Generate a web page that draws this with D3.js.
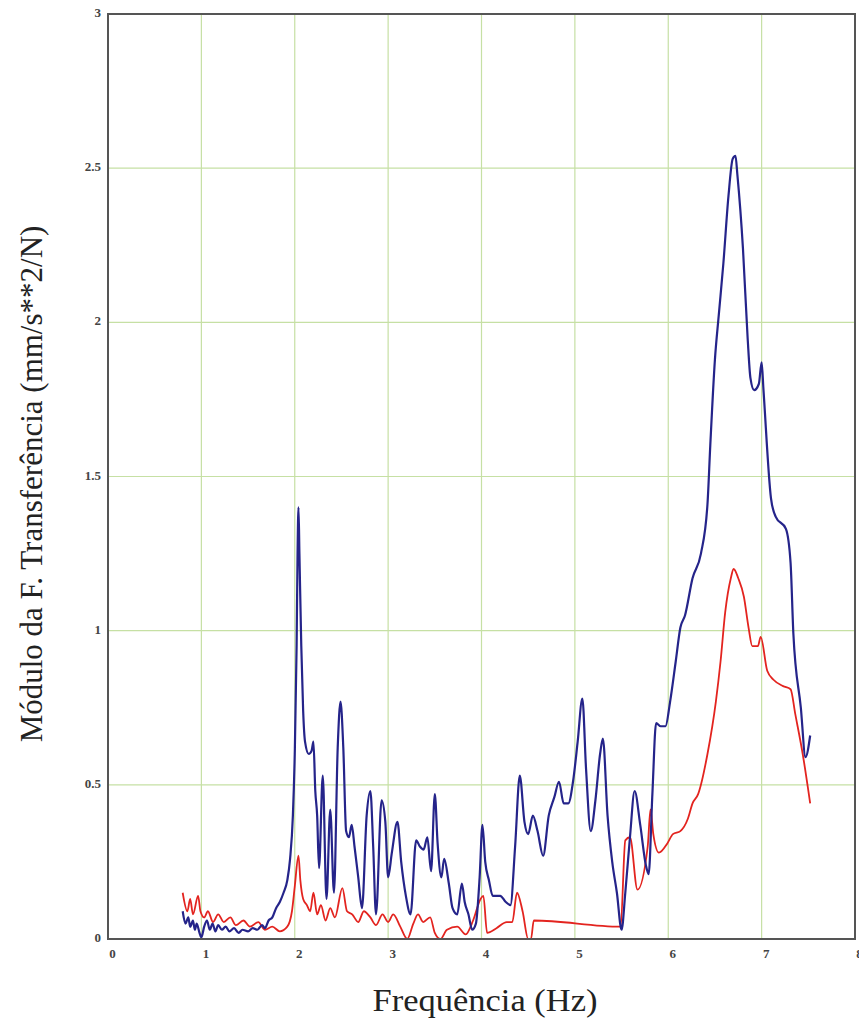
<!DOCTYPE html>
<html>
<head>
<meta charset="utf-8">
<script src="https://cdn.jsdelivr.net/npm/d3@7"></script>
<style>
  body { margin: 0; background: #fff; }
  svg { display: block; }
  .tick text { font-family: "Liberation Serif", "Times New Roman", serif; font-size: 13px; fill: #444; font-weight: bold; }
  .titulo { font-family: "Liberation Serif", "Times New Roman", serif; font-size: 31px; fill: #222; }
</style>
</head>
<body>
<div id="grafico"></div>
<script>
// Eixos
const ticksX = [0, 1, 2, 3, 4, 5, 6, 7, 8];
const ticksY = [0, 0.5, 1, 1.5, 2, 2.5, 3];

// Curva azul
const freqAzul = [0.80, 0.83, 0.86, 0.88, 0.91, 0.93, 0.95, 0.98, 1.00, 1.03, 1.06, 1.09, 1.12, 1.15, 1.18, 1.22, 1.26, 1.30, 1.35, 1.40,
  1.44, 1.50, 1.55, 1.60, 1.65, 1.68, 1.72, 1.76, 1.80, 1.84, 1.88, 1.92, 1.95, 1.98, 2.00, 2.02, 2.03, 2.04, 2.05, 2.07,
  2.09, 2.11, 2.15, 2.18, 2.20, 2.22, 2.24, 2.26, 2.30, 2.34, 2.38, 2.42, 2.46, 2.49, 2.52, 2.55, 2.58, 2.61, 2.64, 2.68,
  2.72, 2.77, 2.81, 2.84, 2.87, 2.93, 2.97, 3.00, 3.04, 3.10, 3.14, 3.19, 3.24, 3.30, 3.34, 3.38, 3.42, 3.46, 3.50, 3.53,
  3.57, 3.60, 3.65, 3.69, 3.74, 3.79, 3.82, 3.86, 3.90, 3.94, 3.98, 4.01, 4.04, 4.08, 4.12, 4.20, 4.26, 4.31, 4.36, 4.41,
  4.46, 4.50, 4.55, 4.60, 4.66, 4.72, 4.78, 4.83, 4.88, 4.93, 4.98, 5.03, 5.08, 5.12, 5.17, 5.22, 5.27, 5.30, 5.35, 5.40,
  5.45, 5.50, 5.54, 5.59, 5.64, 5.70, 5.76, 5.79, 5.83, 5.87, 5.92, 5.97, 6.02, 6.08, 6.13, 6.18, 6.26, 6.35, 6.42, 6.45,
  6.50, 6.54, 6.59, 6.645, 6.69, 6.72, 6.74, 6.80, 6.85, 6.88, 6.92, 6.97, 7.00, 7.02, 7.10, 7.15, 7.26, 7.31, 7.34, 7.42,
  7.47, 7.52];
const modAzul = [0.09, 0.05, 0.07, 0.04, 0.06, 0.03, 0.05, 0.02, 0.005, 0.04, 0.06, 0.03, 0.05, 0.025, 0.045, 0.03, 0.04, 0.025, 0.035, 0.02,
  0.03, 0.025, 0.035, 0.03, 0.045, 0.035, 0.06, 0.07, 0.10, 0.12, 0.15, 0.19, 0.26, 0.40, 0.60, 0.95, 1.25, 1.40, 1.25, 0.95,
  0.74, 0.64, 0.60, 0.61, 0.64, 0.48, 0.40, 0.23, 0.53, 0.13, 0.42, 0.15, 0.62, 0.77, 0.62, 0.35, 0.33, 0.37, 0.30, 0.20,
  0.10, 0.40, 0.48, 0.30, 0.08, 0.45, 0.38, 0.20, 0.28, 0.38, 0.25, 0.14, 0.08, 0.32, 0.30, 0.29, 0.33, 0.22, 0.47, 0.31,
  0.20, 0.26, 0.18, 0.10, 0.08, 0.18, 0.12, 0.08, 0.03, 0.05, 0.20, 0.37, 0.25, 0.19, 0.14, 0.14, 0.12, 0.11, 0.30, 0.53,
  0.38, 0.34, 0.40, 0.35, 0.27, 0.40, 0.46, 0.51, 0.44, 0.44, 0.51, 0.64, 0.78, 0.55, 0.35, 0.45, 0.60, 0.65, 0.40, 0.25,
  0.15, 0.03, 0.15, 0.33, 0.48, 0.37, 0.24, 0.21, 0.47, 0.70, 0.69, 0.69, 0.77, 0.90, 1.01, 1.05, 1.17, 1.25, 1.41, 1.60,
  1.88, 2.02, 2.19, 2.41, 2.53, 2.54, 2.48, 2.24, 1.95, 1.82, 1.78, 1.80, 1.87, 1.78, 1.43, 1.37, 1.33, 1.22, 0.99, 0.75,
  0.59, 0.66];

// Curva vermelha
const freqVermelho = [0.80, 0.85, 0.88, 0.91, 0.965, 0.99, 1.03, 1.07, 1.125, 1.18, 1.24, 1.31, 1.37, 1.45, 1.52, 1.61, 1.68, 1.76, 1.84, 1.92,
  1.97, 2.00, 2.04, 2.06, 2.09, 2.13, 2.165, 2.20, 2.24, 2.28, 2.33, 2.38, 2.43, 2.51, 2.56, 2.615, 2.68, 2.74, 2.81, 2.87,
  2.94, 3.00, 3.055, 3.13, 3.205, 3.27, 3.32, 3.375, 3.45, 3.50, 3.56, 3.63, 3.74, 3.83, 3.91, 3.99, 4.02, 4.06, 4.16, 4.27,
  4.33, 4.38, 4.44, 4.50, 4.53, 4.56, 5.49, 5.54, 5.59, 5.67, 5.78, 5.81, 5.84, 5.90, 5.99, 6.05, 6.13, 6.21, 6.26, 6.32,
  6.42, 6.51, 6.56, 6.61, 6.67, 6.70, 6.75, 6.81, 6.86, 6.90, 6.96, 6.99, 7.06, 7.13, 7.23, 7.31, 7.36, 7.44, 7.52];
const modVermelho = [0.15, 0.09, 0.13, 0.08, 0.14, 0.09, 0.07, 0.09, 0.055, 0.08, 0.055, 0.07, 0.045, 0.06, 0.04, 0.055, 0.03, 0.04, 0.025, 0.04,
  0.09, 0.17, 0.27, 0.19, 0.13, 0.11, 0.09, 0.15, 0.08, 0.11, 0.06, 0.10, 0.07, 0.165, 0.09, 0.08, 0.055, 0.09, 0.07, 0.045,
  0.08, 0.055, 0.08, 0.04, 0.00, 0.05, 0.08, 0.055, 0.07, 0.02, 0.00, 0.03, 0.04, 0.015, 0.06, 0.13, 0.14, 0.02, 0.035, 0.055,
  0.055, 0.15, 0.09, 0.00, 0.00, 0.06, 0.04, 0.32, 0.33, 0.16, 0.30, 0.42, 0.34, 0.28, 0.31, 0.34, 0.35, 0.39, 0.44, 0.47,
  0.60, 0.77, 0.90, 1.06, 1.17, 1.20, 1.17, 1.11, 1.01, 0.95, 0.95, 0.98, 0.87, 0.84, 0.82, 0.81, 0.73, 0.60, 0.44];

const largura = 859, altura = 1024;
const margem = { top: 14, right: 4, bottom: 85, left: 108 };
const w = largura - margem.left - margem.right;
const h = altura - margem.top - margem.bottom;

const svg = d3.select("#grafico").append("svg")
  .attr("width", largura)
  .attr("height", altura);

const g = svg.append("g").attr("transform", `translate(${margem.left},${margem.top})`);

const x = d3.scaleLinear().domain([0, 8]).range([0, w]);
const y = d3.scaleLinear().domain([0, 3]).range([h, 0]);

// Grade
g.append("g").selectAll("line").data(ticksX.slice(1, -1)).enter().append("line")
  .attr("x1", d => x(d)).attr("x2", d => x(d)).attr("y1", 0).attr("y2", h)
  .style("stroke", "#c6e0a4").style("stroke-width", 1.2);
g.append("g").selectAll("line").data(ticksY.slice(1, -1)).enter().append("line")
  .attr("y1", d => y(d)).attr("y2", d => y(d)).attr("x1", 0).attr("x2", w)
  .style("stroke", "#c6e0a4").style("stroke-width", 1.2);

// Eixos
const eixoX = g.append("g").attr("transform", `translate(0,${h})`)
  .call(d3.axisBottom(x).tickValues(ticksX).tickFormat(d3.format("d")).tickSize(0).tickPadding(10));
eixoX.select(".domain").remove();
eixoX.selectAll("text").attr("dx", 4);

const eixoY = g.append("g")
  .call(d3.axisLeft(y).tickValues(ticksY).tickFormat(d => String(d)).tickSize(0).tickPadding(7));
eixoY.select(".domain").remove();
eixoY.selectAll("text").attr("dy", "0.2em");

// Curvas (suavizadas sem ultrapassar os pontos)
const linha = d3.line().x(d => x(d[0])).y(d => y(d[1])).curve(d3.curveMonotoneX);

g.append("path")
  .datum(d3.zip(freqVermelho, modVermelho))
  .attr("d", linha)
  .style("fill", "none").style("stroke", "#e3241f").style("stroke-width", 1.8)
  .style("stroke-linejoin", "round");

g.append("path")
  .datum(d3.zip(freqAzul, modAzul))
  .attr("d", linha)
  .style("fill", "none").style("stroke", "#25248a").style("stroke-width", 2.2)
  .style("stroke-linejoin", "round");

// Moldura
g.append("rect")
  .attr("x", 0).attr("y", 0).attr("width", w).attr("height", h)
  .style("fill", "none").style("stroke", "#555").style("stroke-width", 2);

// Títulos
svg.append("text").attr("class", "titulo")
  .attr("x", 485).attr("y", 1011)
  .attr("text-anchor", "middle")
  .attr("textLength", 225)
  .attr("lengthAdjust", "spacingAndGlyphs")
  .text("Frequência (Hz)");

svg.append("text").attr("class", "titulo")
  .attr("transform", `translate(42,${484}) rotate(-90)`)
  .attr("text-anchor", "middle")
  .text("Módulo da F. Transferência (mm/s**2/N)");
</script>
</body>
</html>
